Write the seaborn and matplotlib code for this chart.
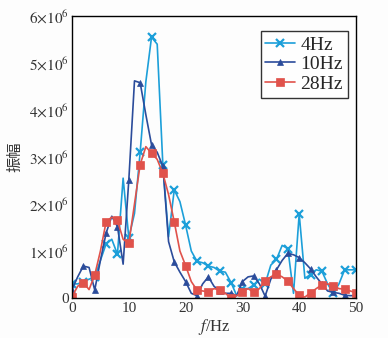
import numpy as np
import pandas as pd
import matplotlib
matplotlib.use("Agg")
import matplotlib.pyplot as plt
import seaborn as sns

freq = list(range(0, 51))
amp_4hz = [0.30, 0.30, 0.35, 0.40, 0.45, 0.80, 1.15, 1.25, 0.93, 2.55, 1.28,
           1.80, 3.10, 4.60, 5.55, 5.40, 2.82, 1.30, 2.30, 2.05, 1.55,
           1.00, 0.78, 0.75, 0.68, 0.65, 0.57, 0.55, 0.33, 0.05, 0.20,
           0.20, 0.28, 0.40, 0.30, 0.70, 0.82, 1.12, 1.05, 0.10, 1.79,
           0.42, 0.50, 0.60, 0.57, 0.30, 0.10, 0.30, 0.60, 0.60, 0.60]
amp_10hz = [0.18, 0.45, 0.68, 0.65, 0.17, 0.80, 1.38, 1.74, 1.52, 0.72, 2.51,
            4.62, 4.58, 3.90, 3.26, 3.10, 2.80, 1.20, 0.77, 0.55, 0.35,
            0.10, 0.05, 0.30, 0.45, 0.25, 0.15, 0.10, 0.10, 0.05, 0.35,
            0.45, 0.47, 0.30, 0.04, 0.40, 0.60, 0.80, 0.95, 0.92, 0.86,
            0.75, 0.62, 0.45, 0.30, 0.15, 0.12, 0.10, 0.06, 0.05, 0.05]
amp_28hz = [0.03, 0.25, 0.33, 0.18, 0.49, 1.00, 1.62, 1.72, 1.65, 1.25, 1.16,
            2.00, 2.84, 3.22, 3.08, 2.95, 2.65, 2.20, 1.62, 1.00, 0.69,
            0.35, 0.17, 0.15, 0.13, 0.20, 0.17, 0.10, 0.00, 0.05, 0.13,
            0.20, 0.12, 0.20, 0.36, 0.45, 0.51, 0.45, 0.36, 0.20, 0.06,
            0.02, 0.11, 0.20, 0.28, 0.30, 0.26, 0.20, 0.19, 0.15, 0.11]
series_names = ["4Hz", "10Hz", "28Hz"]
x_ticks = [0, 10, 20, 30, 40, 50]
y_ticks = [0, 1, 2, 3, 4, 5, 6]
y_tick_labels = ["0", r"$1{\times}10^6$", r"$2{\times}10^6$", r"$3{\times}10^6$",
                 r"$4{\times}10^6$", r"$5{\times}10^6$", r"$6{\times}10^6$"]

sns.set_theme(style="white")
plt.rcParams["font.family"] = ["Liberation Serif", "Noto Sans CJK SC", "DejaVu Sans"]
plt.rcParams["mathtext.fontset"] = "stix"

df = pd.DataFrame({
    "f": freq * 3,
    "amp": [v * 1e6 for v in amp_4hz + amp_10hz + amp_28hz],
    "series": sum([[n] * len(freq) for n in series_names], []),
})

fig = plt.figure(figsize=(3.88, 3.38), dpi=100)
fig.patch.set_facecolor("#fdfdfd")
ax = fig.add_axes([0.1856, 0.1183, 0.7319, 0.8344])
ax.set_facecolor("#fdfdfd")

styles = {
    "4Hz": dict(color="#1c9fd9", marker="x", markersize=6, mew=1.6),
    "10Hz": dict(color="#2b4c9b", marker="^", markersize=4.5, mew=0.5),
    "28Hz": dict(color="#e0524b", marker="s", markersize=6, mew=0.5),
}
for name in series_names:
    st = styles[name]
    sns.lineplot(data=df[df["series"] == name], x="f", y="amp", ax=ax,
                 color=st["color"], marker=st["marker"], markersize=st["markersize"],
                 markeredgewidth=st["mew"], markeredgecolor=st["color"],
                 linewidth=1.2, markevery=2, label=name)

ax.set_xlim(0, 50)
ax.set_ylim(0, 6e6)
ax.set_xticks(x_ticks)
ax.set_xticklabels([str(t) for t in x_ticks])
ax.set_yticks([v * 1e6 for v in y_ticks])
ax.set_yticklabels(y_tick_labels)
ax.tick_params(direction="in", length=4, width=0.8, colors="#222222",
               labelsize=11, labelcolor="#333333", pad=3)
ax.tick_params(axis="y", pad=2)
for s in ax.spines.values():
    s.set_color("black")
    s.set_linewidth(1.0)

ax.set_xlabel(r"$f$/Hz", fontsize=12, color="#333333", labelpad=1)
ax.set_ylabel("振幅", fontsize=11, color="#333333", labelpad=4,
              family=["Noto Sans CJK SC", "DejaVu Sans"])

leg = ax.legend(loc="upper right", bbox_to_anchor=(0.985, 0.96), fontsize=14,
                frameon=True, fancybox=False, edgecolor="black",
                handlelength=1.5, handletextpad=0.3, borderpad=0.25,
                labelspacing=0.1, borderaxespad=0.2)
leg.get_frame().set_linewidth(1.0)
leg.get_frame().set_facecolor("white")

fig.savefig("out.png", dpi=100, facecolor=fig.get_facecolor())
